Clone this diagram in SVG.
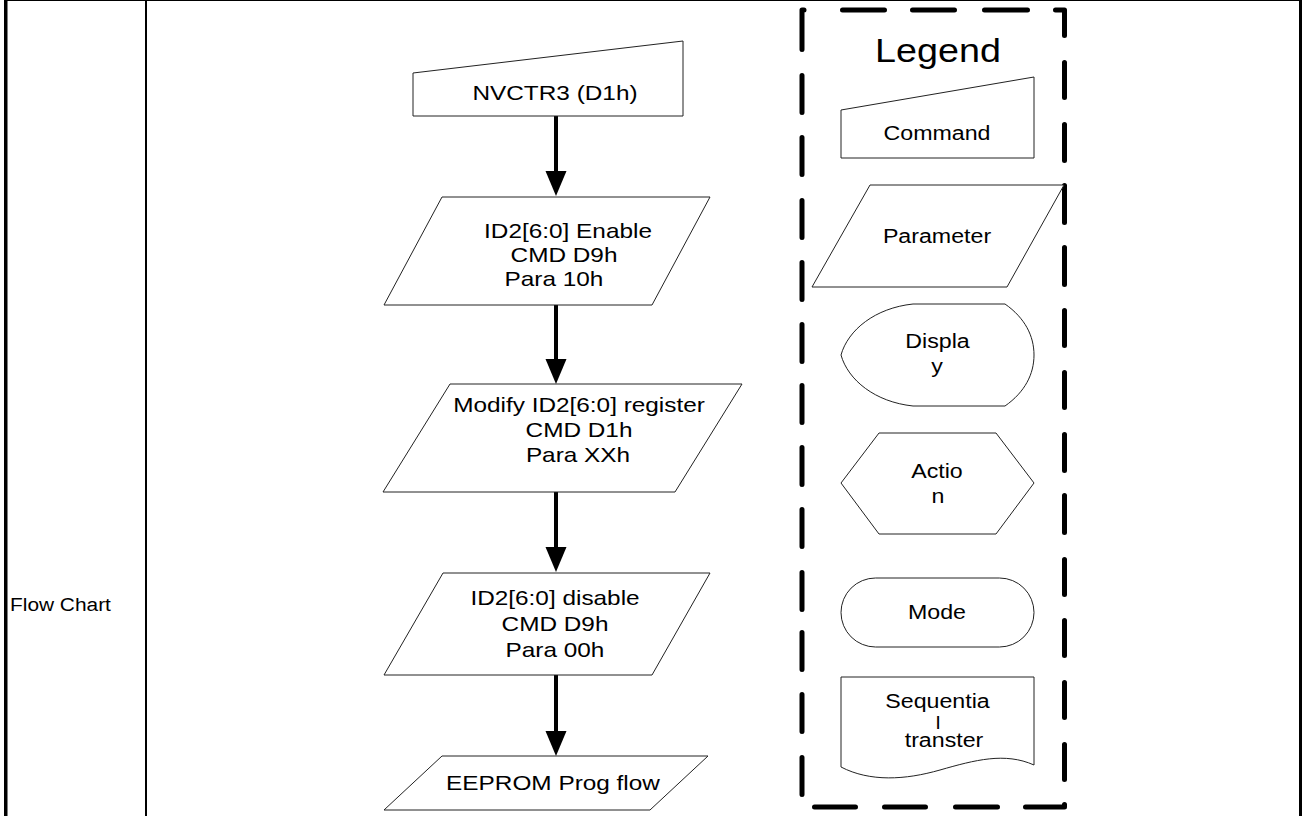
<svg xmlns="http://www.w3.org/2000/svg" width="1302" height="816" viewBox="0 0 1302 816">
<style>
.sh{fill:#fff;stroke:#222;stroke-width:1}
.t{font-family:"Liberation Sans",Arial,sans-serif;font-size:21px;fill:#000;text-anchor:middle}
.l{font-size:20px}
.c{stroke:#000;stroke-width:4;fill:none}
.dash{stroke:#000;stroke-width:5;fill:none;stroke-linecap:round;stroke-linejoin:round}
</style>
<defs>
<marker id="ah" markerUnits="userSpaceOnUse" markerWidth="26" markerHeight="22" viewBox="0 -11 26 22" refX="0" refY="0" orient="auto">
<path d="M0,-10.5 L25,0 L0,10.5 Z" fill="#000"/>
</marker>
</defs>
<rect width="1302" height="816" fill="#fff"/>
<g id="table">
<rect x="4" y="0" width="3.5" height="816" fill="#000"/>
<rect x="145" y="0" width="2" height="816" fill="#000"/>
<rect x="1299" y="0" width="3" height="816" fill="#000"/>
<rect x="4" y="0" width="1298" height="1" fill="#000"/>
<text class="t" style="text-anchor:start;font-size:18px" transform="translate(10,611) scale(1.16,1)">Flow Chart</text>
</g>
<g id="connectors">
<line class="c" x1="556" y1="116" x2="556" y2="171" marker-end="url(#ah)"/>
<line class="c" x1="556" y1="305" x2="556" y2="359" marker-end="url(#ah)"/>
<line class="c" x1="556" y1="492" x2="556" y2="547" marker-end="url(#ah)"/>
<line class="c" x1="556" y1="675" x2="556" y2="731" marker-end="url(#ah)"/>
</g>
<g id="n1">
<polygon class="sh" points="413,73 683,41 683,116 413,116"/>
<text class="t" transform="translate(555,100) scale(1.16,1)">NVCTR3 (D1h)</text>
</g>
<g id="n2">
<polygon class="sh" points="442,197 710,197 652,305 384,305"/>
<text class="t" transform="translate(568,238) scale(1.16,1)">ID2[6:0] Enable</text>
<text class="t" transform="translate(564,262) scale(1.16,1)">CMD D9h</text>
<text class="t" transform="translate(554,286) scale(1.16,1)">Para 10h</text>
</g>
<g id="n3">
<polygon class="sh" points="450,384 742,384 675,492 383,492"/>
<text class="t" transform="translate(579,412) scale(1.16,1)">Modify ID2[6:0] register</text>
<text class="t" transform="translate(579,437) scale(1.16,1)">CMD D1h</text>
<text class="t" transform="translate(578,462) scale(1.16,1)">Para XXh</text>
</g>
<g id="n4">
<polygon class="sh" points="443,573 710,573 652,675 384,675"/>
<text class="t" transform="translate(555,605) scale(1.16,1)">ID2[6:0] disable</text>
<text class="t" transform="translate(555,631) scale(1.16,1)">CMD D9h</text>
<text class="t" transform="translate(555,657) scale(1.16,1)">Para 00h</text>
</g>
<g id="n5">
<polygon class="sh" points="442,756 708,756 650,810 384,810"/>
<text class="t" transform="translate(553,790) scale(1.16,1)">EEPROM Prog flow</text>
</g>
<g id="legend">
<path class="dash" d="M804,10 H802 V49.5 M802,75.5 V112.5 M802,137.5 V174.5 M802,200.5 V237.5 M802,262.5 V299.5 M802,324.5 V361.5 M802,385.5 V422.5 M802,447.5 V484.5 M802,509.5 V546.5 M802,572.5 V609.5 M802,632.5 V669.5 M802,694.5 V731.5 M802,757.5 V794.5 M842.5,10 H884.5 M912.5,10 H954.5 M984.5,10 H1027.5 M1055.5,10 H1064.5 V35.5 M1064.5,62.5 V97.5 M1064.5,124.5 V160.5 M1064.5,185.5 V222.5 M1064.5,247.5 V284.5 M1064.5,310.5 V345.5 M1064.5,372.5 V407.5 M1064.5,434.5 V470.5 M1064.5,495.5 V532.5 M1064.5,559.5 V594.5 M1064.5,620.5 V655.5 M1064.5,682.5 V717.5 M1064.5,744.5 V779.5 M1064.5,804.5 V807 H1025.5 M814.5,807 H855.5 M884.5,807 H925.5 M955.5,807 H997.5"/>
<text class="t" style="font-size:32.5px" transform="translate(938,62) scale(1.16,1)">Legend</text>
</g>
<g id="lg-command">
<polygon class="sh" points="841,110 1034,77 1034,158 841,158"/>
<text class="t l" transform="translate(937,140) scale(1.16,1)">Command</text>
</g>
<g id="lg-parameter">
<polygon class="sh" points="870,185 1064,185 1007,287 812,287"/>
<text class="t l" transform="translate(937,243) scale(1.16,1)">Parameter</text>
</g>
<g id="lg-display">
<path class="sh" d="M913,304 H1005 C1025,318 1034,336 1034,355 C1034,374 1025,392 1005,406 H913 C875,402 848,380 841,355 C848,330 875,308 913,304 Z"/>
<text class="t l" transform="translate(937.5,348) scale(1.16,1)">Displa</text>
<text class="t l" transform="translate(937,373) scale(1.16,1)">y</text>
</g>
<g id="lg-action">
<polygon class="sh" points="879,433 996,433 1034,483 996,534 879,534 841,483"/>
<text class="t l" transform="translate(937,478) scale(1.16,1)">Actio</text>
<text class="t l" transform="translate(938,503) scale(1.16,1)">n</text>
</g>
<g id="lg-mode">
<rect class="sh" x="841" y="578" width="193" height="69" rx="34.5" ry="34.5"/>
<text class="t l" transform="translate(937,619) scale(1.16,1)">Mode</text>
</g>
<g id="lg-seq">
<path class="sh" d="M841,677 H1034 V765 C1005,752 975,760 940,770 C905,780 870,782 841,767 Z"/>
<text class="t l" transform="translate(937.5,708) scale(1.16,1)">Sequentia</text>
<text class="t l" style="font-size:18px" transform="translate(938,729) scale(1.16,1)">l</text>
<text class="t l" transform="translate(944,747) scale(1.16,1)">transter</text>
</g>
</svg>
